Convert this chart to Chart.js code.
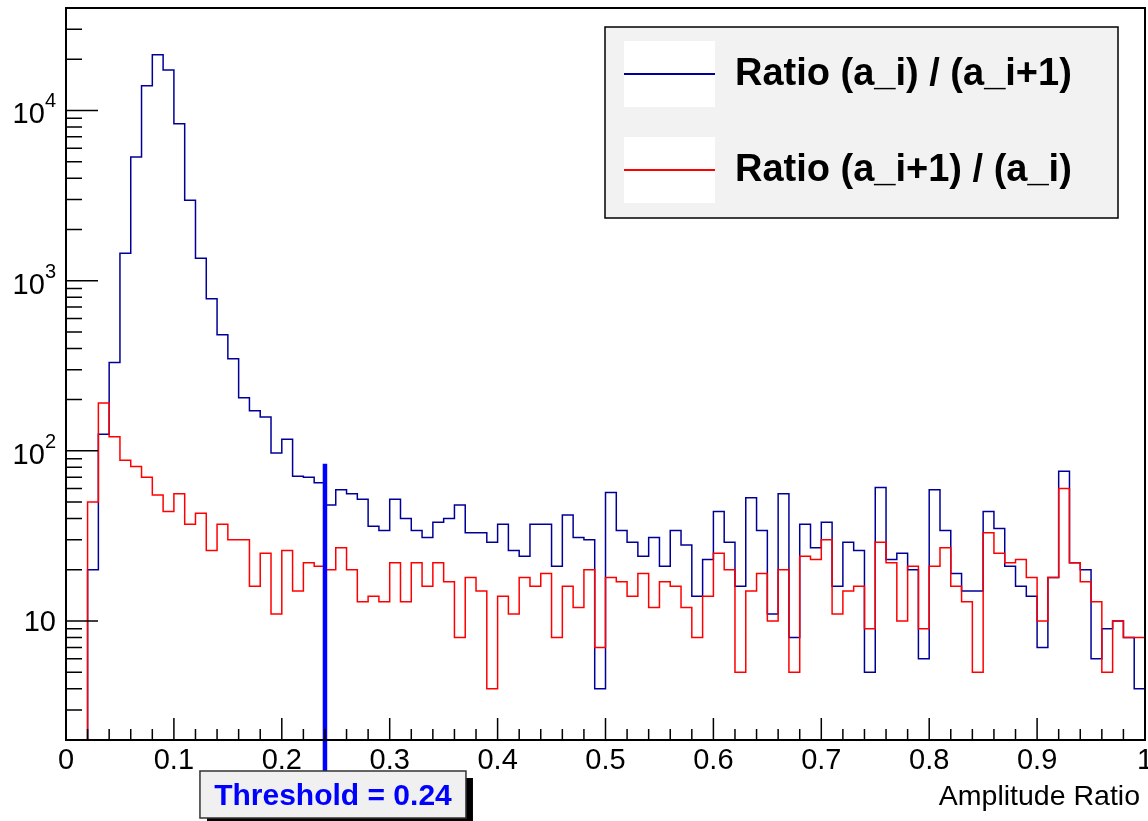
<!DOCTYPE html>
<html>
<head>
<meta charset="utf-8">
<script src="https://cdn.jsdelivr.net/npm/chart.js@4.4.1/dist/chart.umd.min.js"></script>
<style>
  body { margin: 0; background: #fff; }
  #wrap { width: 1148px; height: 821px; }
</style>
</head>
<body>
<div id="wrap"><canvas id="ratio_hist" width="1148" height="821"></canvas></div>
<script>
// histogram binning: 100 bins between 0 and 1
const xMin = 0, xMax = 1, nBins = 100
const yMin = 2, yMax = 40000

// counts per bin, Ratio (a_i) / (a_i+1)
const ratioFwd = [
    0, 0, 20, 125, 330, 1450, 5320, 13970, 21280, 17280,
    8350, 2970, 1355, 783, 481, 348, 205, 172, 158, 97,
    117, 71, 70, 65, 48, 59, 56, 52, 36, 34,
    52, 40, 34, 31, 38, 40, 48, 33, 33, 29,
    37, 26, 24, 37, 37, 21, 42, 31, 30, 4,
    57, 34, 29, 24, 31, 21, 34, 28, 14, 23,
    44, 29, 16, 53, 34, 11, 56, 8, 37, 27,
    38, 16, 29, 26, 5, 61, 23, 25, 20, 6,
    59, 34, 19, 15, 15, 44, 35, 21, 16, 14,
    7, 18, 76, 22, 20, 6, 9, 10, 8, 4
]

// counts per bin, Ratio (a_i+1) / (a_i)
const ratioBwd = [
    0, 0, 50, 191, 121, 88, 81, 70, 55, 44,
    56, 37, 43, 26, 37, 30, 30, 16, 25, 11,
    26, 15, 22, 21, 20, 27, 20, 13, 14, 13,
    22, 13, 22, 16, 22, 17, 8, 18, 15, 4,
    14, 11, 18, 16, 19, 8, 16, 12, 20, 7,
    18, 17, 14, 19, 12, 17, 16, 12, 8, 14,
    25, 20, 5, 15, 19, 10, 20, 5, 24, 23,
    30, 11, 15, 16, 9, 29, 22, 10, 21, 9,
    21, 27, 16, 13, 5, 33, 25, 22, 23, 18,
    10, 18, 60, 22, 17, 13, 5, 10, 8, 8
]

// threshold marker (line runs from under the axis up to ~84 counts)
const threshold = 0.24
const thresholdSpan = [1.29, 84]
const thresholdText = 'Threshold = 0.24'

// axis labels
const xTicks = [0, 0.1, 0.2, 0.3, 0.4, 0.5, 0.6, 0.7, 0.8, 0.9, 1]
const xTickLabels = ['0', '0.1', '0.2', '0.3', '0.4', '0.5', '0.6', '0.7', '0.8', '0.9', '1']
const yTicks = [10, 100, 1000, 10000]
const yTickExp = ['', '2', '3', '4']
const xTitle = 'Amplitude Ratio'

const FONT = "'Liberation Sans', Helvetica, Arial, sans-serif"

// counts -> step points on the bin edges
function toSteps(counts)
{
    const w = (xMax - xMin) / nBins
    let pts = []
    for (let i = 0; i < counts.length; i++)
    {
        // empty bins are drawn on the bottom axis like ROOT does
        pts.push({x: xMin + i * w, y: Math.max(counts[i], yMin)})
    }
    pts.push({x: xMax, y: Math.max(counts[counts.length - 1], yMin)})
    return pts
}

// draws the ROOT look: frame, inner ticks, labels, legend, threshold box
const rootStyle = {
    id: 'rootStyle',
    afterDraw(chart) {
        const ctx = chart.ctx
        const a = chart.chartArea
        const xs = chart.scales.x
        const ys = chart.scales.y
        ctx.save()

        // ticks
        ctx.strokeStyle = '#000'
        ctx.lineWidth = 1.5
        ctx.beginPath()
        for (let k = 0; k <= 50; k++)
        {
            const px = xs.getPixelForValue(xMin + k * 0.02)
            const len = (k % 5 == 0) ? 22 : 11
            ctx.moveTo(px, a.bottom)
            ctx.lineTo(px, a.bottom - len)
        }
        for (let d = 1; d <= 10000; d *= 10)
        {
            for (let m = 1; m <= 9; m++)
            {
                const v = m * d
                if (v < yMin || v > yMax) continue
                const py = ys.getPixelForValue(v)
                const len = (m == 1) ? 32 : 16
                ctx.moveTo(a.left, py)
                ctx.lineTo(a.left + len, py)
            }
        }
        ctx.stroke()

        // frame
        ctx.lineWidth = 2
        ctx.strokeRect(a.left, a.top, a.right - a.left, a.bottom - a.top)

        // x labels
        ctx.fillStyle = '#000'
        ctx.font = '29px ' + FONT
        ctx.textAlign = 'center'
        ctx.textBaseline = 'alphabetic'
        for (let i = 0; i < xTicks.length; i++)
        {
            ctx.fillText(xTickLabels[i], xs.getPixelForValue(xTicks[i]), a.bottom + 29)
        }
        ctx.font = '28.5px ' + FONT
        ctx.textAlign = 'right'
        ctx.fillText(xTitle, a.right - 5, a.bottom + 65)

        // y labels, 10 with exponent
        for (let i = 0; i < yTicks.length; i++)
        {
            const py = ys.getPixelForValue(yTicks[i])
            const right = a.left - 10
            if (yTickExp[i] == '')
            {
                ctx.font = '29px ' + FONT
                ctx.fillText('10', right, py + 10)
            }
            else
            {
                ctx.font = '20px ' + FONT
                const ew = ctx.measureText(yTickExp[i]).width
                ctx.fillText(yTickExp[i], right, py - 3)
                ctx.font = '29px ' + FONT
                ctx.fillText('10', right - ew, py + 13)
            }
        }

        // legend
        const lg = {x: 605, y: 27, w: 513, h: 191}
        ctx.fillStyle = '#f2f2f2'
        ctx.fillRect(lg.x, lg.y, lg.w, lg.h)
        ctx.lineWidth = 1.5
        ctx.strokeStyle = '#000'
        ctx.strokeRect(lg.x, lg.y, lg.w, lg.h)
        const entries = chart.data.datasets.filter(ds => ds.inLegend)
        ctx.font = 'bold 38px ' + FONT
        ctx.textAlign = 'left'
        ctx.textBaseline = 'middle'
        entries.forEach((ds, j) => {
            const cy = lg.y + 47 + j * 96
            ctx.fillStyle = '#fff'
            ctx.fillRect(lg.x + 19, cy - 33, 91, 66)
            ctx.strokeStyle = ds.borderColor
            ctx.lineWidth = 2
            ctx.beginPath()
            ctx.moveTo(lg.x + 19, cy)
            ctx.lineTo(lg.x + 110, cy)
            ctx.stroke()
            ctx.fillStyle = '#000'
            ctx.fillText(ds.label, lg.x + 130, cy + 1)
        })

        // threshold label box with shadow
        const tx = xs.getPixelForValue(threshold)
        const bx = tx - 125, by = a.bottom + 31, bw = 266, bh = 47
        ctx.fillStyle = '#000'
        ctx.fillRect(bx + 7, by + 7, bw, bh)
        ctx.fillStyle = '#f0f0f0'
        ctx.fillRect(bx, by, bw, bh)
        ctx.lineWidth = 1.5
        ctx.strokeStyle = '#333'
        ctx.strokeRect(bx, by, bw, bh)
        ctx.fillStyle = '#0000ff'
        ctx.font = 'bold 30px ' + FONT
        ctx.textAlign = 'center'
        ctx.textBaseline = 'alphabetic'
        ctx.fillText(thresholdText, bx + bw / 2, by + 34)

        ctx.restore()
    }
}

const data_h = {
    datasets: [{
        label: 'Ratio (a_i) / (a_i+1)',
        data: toSteps(ratioFwd),
        borderColor: '#000099',
        borderWidth: 1.5,
        order: 2,
        inLegend: true
    }, {
        label: 'Ratio (a_i+1) / (a_i)',
        data: toSteps(ratioBwd),
        borderColor: '#ff0000',
        borderWidth: 1.5,
        order: 1,
        inLegend: true
    }, {
        label: 'threshold',
        data: [{x: threshold, y: thresholdSpan[0]}, {x: threshold, y: thresholdSpan[1]}],
        borderColor: '#0000ff',
        borderWidth: 4.5,
        stepped: false,
        clip: false,
        order: 0
    }]
}

const config_h = {
    type: 'line',
    data: data_h,
    options: {
        responsive: false,
        animation: false,
        events: [],
        layout: {padding: {top: 8, right: 3, left: 0, bottom: 0}},
        elements: {
            line: {stepped: true, tension: 0, fill: false, borderCapStyle: 'butt'},
            point: {radius: 0}
        },
        plugins: {legend: {display: false}, tooltip: {enabled: false}},
        scales: {
            x: {
                type: 'linear', min: xMin, max: xMax,
                grid: {display: false}, border: {display: false},
                ticks: {display: false},
                afterFit: s => { s.height = 81 }
            },
            y: {
                type: 'logarithmic', min: yMin, max: yMax,
                grid: {display: false}, border: {display: false},
                ticks: {display: false},
                afterFit: s => { s.width = 66 }
            }
        }
    },
    plugins: [rootStyle]
}

const histChart = new Chart(
    document.getElementById('ratio_hist'),
    config_h
)
</script>
</body>
</html>
